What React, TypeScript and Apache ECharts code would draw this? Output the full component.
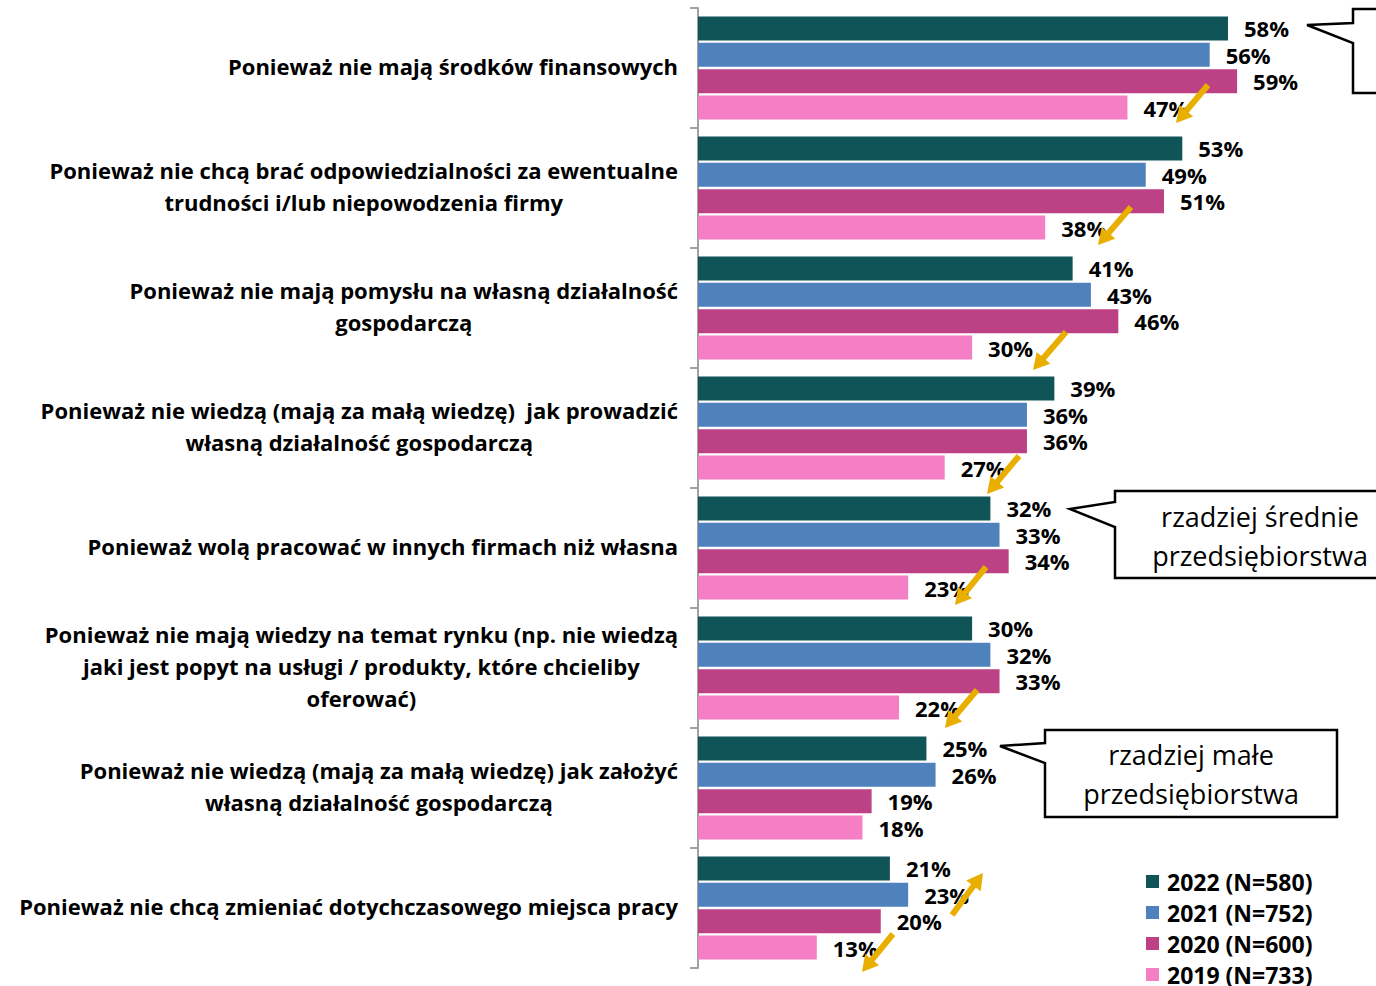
import React, { useEffect, useRef } from 'react';
import * as echarts from 'echarts';

const categories = [
  'Ponieważ nie mają środków finansowych',
  'Ponieważ nie chcą brać odpowiedzialności za ewentualne\ntrudności i/lub niepowodzenia firmy',
  'Ponieważ nie mają pomysłu na własną działalność\ngospodarczą',
  'Ponieważ nie wiedzą (mają za małą wiedzę)  jak prowadzić\nwłasną działalność gospodarczą',
  'Ponieważ wolą pracować w innych firmach niż własna',
  'Ponieważ nie mają wiedzy na temat rynku (np. nie wiedzą\njaki jest popyt na usługi / produkty, które chcieliby\noferować)',
  'Ponieważ nie wiedzą (mają za małą wiedzę) jak założyć\nwłasną działalność gospodarczą',
  'Ponieważ nie chcą zmieniać dotychczasowego miejsca pracy',
];

const seriesNames = ['2022 (N=580)', '2021 (N=752)', '2020 (N=600)', '2019 (N=733)'];
const values2022 = [58, 53, 41, 39, 32, 30, 25, 21];
const values2021 = [56, 49, 43, 36, 33, 32, 26, 23];
const values2020 = [59, 51, 46, 36, 34, 33, 19, 20];
const values2019 = [47, 38, 30, 27, 23, 22, 18, 13];
const seriesValues = [values2022, values2021, values2020, values2019];
const seriesColors = ['#115458', '#4F81BD', '#BC4185', '#F47FC5'];

const calloutTexts = ['rzadziej średnie\nprzedsiębiorstwa', 'rzadziej małe\nprzedsiębiorstwa'];

const FONT = '"Open Sans", Lato, sans-serif';
const ARROW_COLOR = '#E9AF00';

// annotation arrows: [tailX, tailY, tipX, tipY]
const arrows: number[][] = [
  [1208, 85, 1176, 123],
  [1131, 207, 1098, 245],
  [1066, 332, 1033, 370],
  [1019, 456, 987, 494],
  [986, 567, 955, 605],
  [977, 690, 945, 728],
  [952, 915, 983, 873],
  [893, 934, 862, 972],
];

function arrowGraphic(a: number[]) {
  const [tx, ty, px, py] = a;
  const dx = px - tx;
  const dy = py - ty;
  const len = Math.sqrt(dx * dx + dy * dy);
  const ux = dx / len;
  const uy = dy / len;
  const nx = -uy;
  const ny = ux;
  const headLen = 16;
  const headHalf = 9;
  const bx = px - ux * headLen;
  const by = py - uy * headLen;
  return [
    {
      type: 'line',
      shape: { x1: tx, y1: ty, x2: bx + ux * 2, y2: by + uy * 2 },
      style: { stroke: ARROW_COLOR, lineWidth: 6 },
      z: 100,
    },
    {
      type: 'polygon',
      shape: {
        points: [
          [px, py],
          [bx + nx * headHalf, by + ny * headHalf],
          [bx - nx * headHalf, by - ny * headHalf],
        ],
      },
      style: { fill: ARROW_COLOR },
      z: 100,
    },
  ];
}

function callout(points: number[][]) {
  return {
    type: 'polygon',
    shape: { points },
    style: { fill: '#ffffff', stroke: '#000000', lineWidth: 2.5 },
    z: 50,
  };
}

export default function App() {
  const ref = useRef<HTMLDivElement>(null);

  useEffect(() => {
    if (!ref.current) return;
    const chart = echarts.init(ref.current, null, { renderer: 'svg' });

    const series = seriesNames.map((name, i) => ({
      name,
      type: 'bar',
      data: seriesValues[i],
      barWidth: 24,
      barGap: '10%',
      itemStyle: { color: seriesColors[i] },
      label: {
        show: true,
        position: 'right',
        distance: 16,
        formatter: '{c}%',
        fontFamily: FONT,
        fontWeight: 'bold',
        fontSize: 22,
        lineHeight: 20,
        color: '#000',
      },
    }));

    const graphics: any[] = [];
    arrows.forEach((a) => graphics.push(...arrowGraphic(a)));
    graphics.push(
      callout([
        [1307, 25],
        [1353, 23],
        [1353, 9],
        [1395, 9],
        [1395, 93],
        [1353, 93],
        [1353, 43],
      ])
    );
    graphics.push(
      callout([
        [1070, 509],
        [1115, 502],
        [1115, 491],
        [1395, 491],
        [1395, 578],
        [1115, 578],
        [1115, 527],
      ])
    );
    graphics.push({
      type: 'text',
      x: 1260,
      y: 536,
      style: {
        text: calloutTexts[0],
        align: 'center',
        verticalAlign: 'middle',
        fontFamily: FONT,
        fontSize: 27,
        lineHeight: 39,
        fill: '#000',
      },
      z: 60,
    });
    graphics.push(
      callout([
        [1000, 746],
        [1045, 743],
        [1045, 730],
        [1337, 730],
        [1337, 817],
        [1045, 817],
        [1045, 763],
      ])
    );
    graphics.push({
      type: 'text',
      x: 1191,
      y: 774,
      style: {
        text: calloutTexts[1],
        align: 'center',
        verticalAlign: 'middle',
        fontFamily: FONT,
        fontSize: 27,
        lineHeight: 39,
        fill: '#000',
      },
      z: 60,
    });

    chart.setOption({
      animation: false,
      grid: { left: 698, top: 8, right: 0, height: 960, containLabel: false },
      xAxis: {
        type: 'value',
        min: 0,
        max: 74.2,
        show: false,
      },
      yAxis: {
        type: 'category',
        data: categories,
        inverse: true,
        axisLine: { show: true, lineStyle: { color: '#A0A0A0', width: 2 } },
        axisTick: { show: true, length: 8, lineStyle: { color: '#A0A0A0', width: 2 } },
        axisLabel: {
          margin: 20,
          padding: [0, 0, 4, 0],
          formatter: (v: string) =>
            v
              .split('\n')
              .map((l) => '{c|' + l + '}')
              .join('\n'),
          rich: {
            c: {
              align: 'center',
              fontFamily: FONT,
              fontWeight: 'bold',
              fontSize: 22,
              lineHeight: 32,
              color: '#000',
            },
          },
        },
      },
      legend: {
        orient: 'vertical',
        left: 1146,
        top: 870,
        padding: 0,
        itemWidth: 13,
        itemHeight: 13,
        itemGap: 8,
        icon: 'rect',
        data: seriesNames,
        textStyle: {
          fontFamily: FONT,
          fontWeight: 'bold',
          fontSize: 23,
          lineHeight: 22,
          color: '#000',
          padding: [0, 0, 0, 3],
        },
      },
      series,
      graphic: graphics,
    });

    return () => chart.dispose();
  }, []);

  return (
    <div
      ref={ref}
      style={{ position: 'fixed', left: 0, top: 0, width: 1376, height: 1020, background: '#fff' }}
    />
  );
}
